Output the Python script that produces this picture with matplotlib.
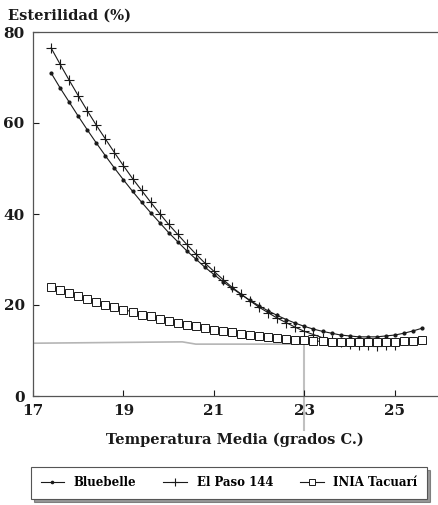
import numpy as np
import matplotlib
matplotlib.use("Agg")
import matplotlib.pyplot as plt

# temperatura media (grados C.)
temps = [17.4, 17.6, 17.8, 18.0, 18.2, 18.4, 18.6, 18.8, 19.0, 19.2, 19.4,
         19.6, 19.8, 20.0, 20.2, 20.4, 20.6, 20.8, 21.0, 21.2, 21.4, 21.6,
         21.8, 22.0, 22.2, 22.4, 22.6, 22.8, 23.0, 23.2, 23.4, 23.6, 23.8,
         24.0, 24.2, 24.4, 24.6, 24.8, 25.0, 25.2, 25.4, 25.6]

bluebelle = [71.0, 67.7, 64.6, 61.5, 58.5, 55.6, 52.8, 50.1, 47.5, 45.0, 42.6,
             40.3, 38.1, 35.9, 33.9, 31.9, 30.1, 28.3, 26.7, 25.1, 23.7, 22.3,
             21.0, 19.8, 18.7, 17.7, 16.8, 16.0, 15.3, 14.7, 14.2, 13.8, 13.4,
             13.2, 13.0, 13.0, 13.0, 13.2, 13.4, 13.8, 14.3, 14.9]

# El Paso 144 termina en 25.0
el_paso = [76.5, 72.9, 69.4, 66.0, 62.7, 59.5, 56.5, 53.5, 50.6, 47.8, 45.2,
           42.6, 40.1, 37.7, 35.5, 33.3, 31.2, 29.2, 27.4, 25.6, 23.9, 22.4,
           20.9, 19.5, 18.3, 17.1, 16.1, 15.1, 14.2, 13.5, 12.8, 12.3, 11.8,
           11.5, 11.2, 11.1, 11.0, 11.1, 11.2]

inia = [24.0, 23.3, 22.6, 22.0, 21.3, 20.7, 20.1, 19.5, 19.0, 18.5, 17.9,
        17.5, 17.0, 16.5, 16.1, 15.7, 15.3, 14.9, 14.6, 14.3, 14.0, 13.7,
        13.4, 13.2, 12.9, 12.7, 12.5, 12.4, 12.2, 12.1, 12.0, 11.9, 11.9,
        11.8, 11.8, 11.8, 11.8, 11.9, 11.9, 12.0, 12.1, 12.3]

xticks = [17, 19, 21, 23, 25]
yticks = [0, 20, 40, 60, 80]

W, H = 439, 505
fig = plt.figure(figsize=(W / 100, H / 100), dpi=100)
ax = fig.add_axes([33 / W, 1 - 396 / H, (437 - 33) / W, (396 - 32) / H])

font = {"family": "DejaVu Serif", "weight": "bold"}
ink = "#1a1a1a"

l1, = ax.plot(temps, bluebelle, color=ink, lw=0.8, marker="o", ms=2.0,
              label="Bluebelle")
l2, = ax.plot(temps[:len(el_paso)], el_paso, color=ink, lw=0.8, marker="+",
              ms=7, mew=0.8, label="El Paso 144")
l3, = ax.plot(temps, inia, color=ink, lw=0.8, marker="s", ms=6,
              mfc="white", mew=0.7, label="INIA Tacuarí")

# marcas grises del escaneo
ax.plot([17, 20.3, 20.6, 23.2], [11.6, 11.9, 11.4, 11.4], color="#b5b5b5",
        lw=1.2, zorder=0)
ax.plot([23, 23], [-7.5, 11.4], color="#c0c0c0", lw=1.5, zorder=0,
        clip_on=False)

ax.set_xlim(17, 25.93)
ax.set_ylim(0, 80)
ax.set_xticks(xticks)
ax.set_yticks(yticks)
ax.tick_params(direction="in", length=4, width=0.8, colors=ink, pad=6,
               labelsize=11)
for lab in ax.get_xticklabels() + ax.get_yticklabels():
    lab.set_fontfamily("DejaVu Serif")
    lab.set_fontweight("bold")
ax.spines["right"].set_visible(False)
for s in ["left", "bottom", "top"]:
    ax.spines[s].set_color("#555555")
    ax.spines[s].set_linewidth(0.9)

fig.text(8 / W, 1 - 16 / H, "Esterilidad (%)", fontsize=10.5, va="center",
         color=ink, **font)
fig.text(235 / W, 1 - 440 / H, "Temperatura Media (grados C.)", fontsize=10.5,
         ha="center", va="center", color=ink, **font)

leg = fig.legend(handles=[l1, l2, l3], loc="center",
                 bbox_to_anchor=(229 / W, 1 - 483 / H), ncol=3,
                 prop={"family": "DejaVu Serif", "weight": "bold", "size": 8.5},
                 frameon=True, fancybox=False, shadow={"color": "#333333"},
                 handlelength=2.0, columnspacing=2.3, borderpad=0.8,
                 edgecolor="#555555", markerscale=0.8)
leg.get_frame().set_linewidth(0.8)

fig.savefig("out.png", dpi=100)
